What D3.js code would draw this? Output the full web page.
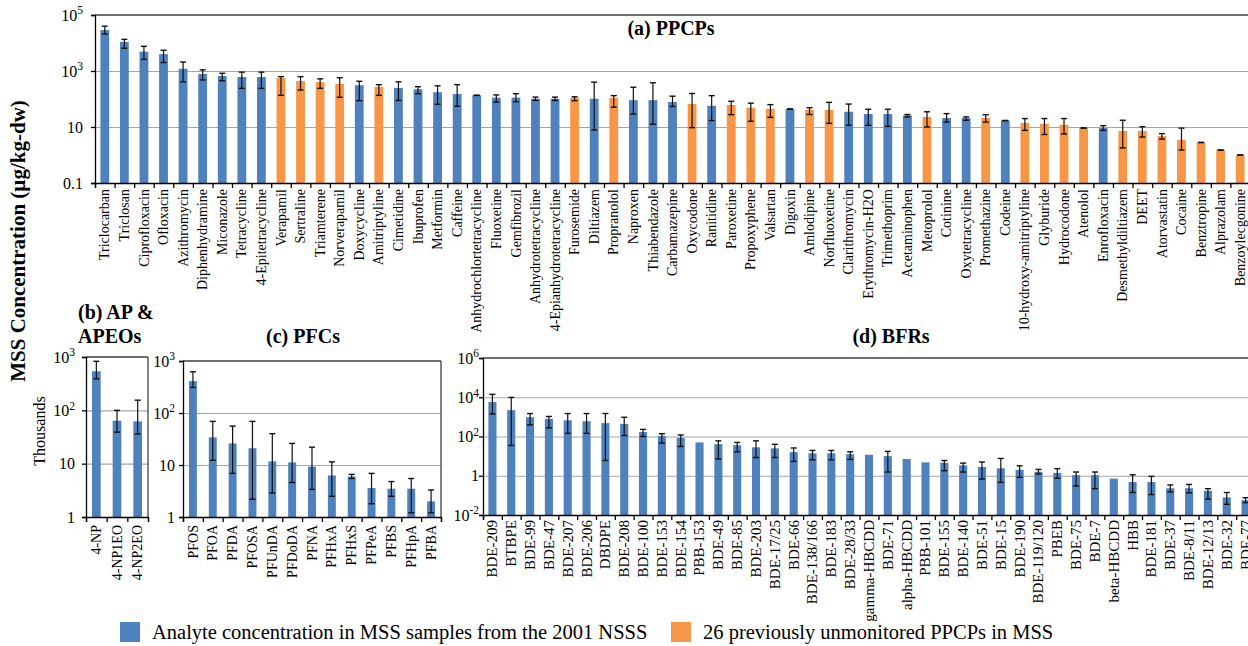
<!DOCTYPE html>
<html>
<head>
<meta charset="utf-8">
<script src="https://cdn.jsdelivr.net/npm/d3@7"></script>
<style>
  body { margin: 0; background: #fff; }
  svg { display: block; font-family: "Liberation Serif", "Times New Roman", serif; }
</style>
</head>
<body>
<svg id="chart"></svg>
<script>
// (a) PPCPs
const ppcpNames = ["Triclocarban", "Triclosan", "Ciprofloxacin", "Ofloxacin", "Azithromycin",
  "Diphenhydramine", "Miconazole", "Tetracycline", "4-Epitetracycline", "Verapamil", "Sertraline",
  "Triamterene", "Norverapamil", "Doxycycline", "Amitriptyline", "Cimetidine", "Ibuprofen",
  "Metformin", "Caffeine", "Anhydrochlortetracycline", "Fluoxetine", "Gemfibrozil",
  "Anhydrotetracycline", "4-Epianhydrotetracycline", "Furosemide", "Diltiazem", "Propranolol",
  "Naproxen", "Thiabendazole", "Carbamazepine", "Oxycodone", "Ranitidine", "Paroxetine",
  "Propoxyphene", "Valsartan", "Digoxin", "Amlodipine", "Norfluoxetine", "Clarithromycin",
  "Erythromycin-H2O", "Trimethoprim", "Acetaminophen", "Metoprolol", "Cotinine",
  "Oxytetracycline", "Promethazine", "Codeine", "10-hydroxy-amitriptyline", "Glyburide",
  "Hydrocodone", "Atenolol", "Enrofloxacin", "Desmethyldiltiazem", "DEET", "Atorvastatin",
  "Cocaine", "Benztropine", "Alprazolam", "Benzoylecgonine"];
const ppcpValues = [29000, 11000, 4900, 4000, 1200, 780, 660, 610, 610, 560, 440, 405, 345, 310,
  270, 247, 223, 175, 150, 135, 112, 112, 102, 102, 110, 102, 110, 91, 91, 78, 66, 57, 61, 49, 45,
  44, 41, 41, 35, 29, 29, 26, 23, 21, 21, 21, 17, 14, 13, 12, 9.2, 9.2, 7.2, 7.2, 4.8, 3.5, 2.8,
  1.5, 1.0];
const ppcpLow = [21000, 6500, 2600, 2000, 410, 480, 450, 240, 240, 135, 210, 240, 115, 87, 135, 89,
  155, 65, 55, 135, 78, 80, 89, 89, 87, 7.8, 51, 29, 12.6, 54, 9.5, 17, 27.5, 16, 22, 44, 28, 13.5,
  11.5, 11.5, 10.5, 23, 10, 15, 17.4, 15, 17, 7.6, 5.4, 5.6, 9.2, 7.6, 1.8, 4.4, 3.7, 1.5, 2.8,
  1.5, 1.0];
const ppcpHigh = [40000, 13500, 7600, 5500, 2100, 1100, 830, 910, 910, 630, 630, 525, 575, 430, 325,
  410, 275, 295, 325, 135, 140, 155, 117, 117, 120, 400, 132, 263, 380, 126, 158, 132, 83, 71, 63,
  44, 49, 76, 66, 43, 43, 28, 35, 30, 23, 27.5, 17, 20, 20, 20, 9.2, 11.2, 17.4, 10.2, 5.8, 9.1,
  2.8, 1.5, 1.0];
const newPpcps = ["Verapamil", "Sertraline", "Triamterene", "Norverapamil", "Amitriptyline",
  "Furosemide", "Propranolol", "Oxycodone", "Paroxetine", "Propoxyphene", "Valsartan",
  "Amlodipine", "Norfluoxetine", "Metoprolol", "Promethazine", "10-hydroxy-amitriptyline",
  "Glyburide", "Hydrocodone", "Atenolol", "Desmethyldiltiazem", "DEET", "Atorvastatin",
  "Cocaine", "Benztropine", "Alprazolam", "Benzoylecgonine"];

// (b) AP & APEOs (thousands)
const apNames = ["4-NP", "4-NP1EO", "4-NP2EO"];
const apValues = [540, 64, 62];
const apLow = [390, 39, 36];
const apHigh = [830, 100, 155];

// (c) PFCs
const pfcNames = ["PFOS", "PFOA", "PFDA", "PFOSA", "PFUnDA", "PFDoDA", "PFNA", "PFHxA", "PFHxS",
  "PFPeA", "PFBS", "PFHpA", "PFBA"];
const pfcValues = [410, 34, 26, 21, 11.7, 11.2, 9.3, 6.3, 6.0, 3.6, 3.5, 3.5, 2.0];
const pfcLow = [310, 12.3, 6.9, 2.2, 2.9, 4.6, 3.4, 2.5, 5.5, 1.8, 2.5, 1.2, 1.2];
const pfcHigh = [620, 69, 56, 69, 40, 26, 22, 11.5, 6.6, 6.9, 4.8, 5.5, 3.3];

// (d) BFRs
const bfrNames = ["BDE-209", "BTBPE", "BDE-99", "BDE-47", "BDE-207", "BDE-206", "DBDPE", "BDE-208",
  "BDE-100", "BDE-153", "BDE-154", "PBB-153", "BDE-49", "BDE-85", "BDE-203", "BDE-17/25",
  "BDE-66", "BDE-138/166", "BDE-183", "BDE-28/33", "gamma-HBCDD", "BDE-71", "alpha-HBCDD",
  "PBB-101", "BDE-155", "BDE-140", "BDE-51", "BDE-15", "BDE-190", "BDE-119/120", "PBEB",
  "BDE-75", "BDE-7", "beta-HBCDD", "HBB", "BDE-181", "BDE-37", "BDE-8/11", "BDE-12/13",
  "BDE-32", "BDE-77"];
const bfrValues = [5800, 2200, 960, 790, 670, 600, 480, 440, 170, 105, 86, 50, 41, 36, 28, 25, 16,
  14, 14, 12.6, 11.7, 10, 7.1, 4.8, 4.6, 3.4, 2.8, 2.4, 2.0, 1.6, 1.4, 1.07, 1.07, 0.71, 0.48,
  0.48, 0.23, 0.23, 0.17, 0.079, 0.057];
const bfrLow = [1400, 35, 390, 275, 145, 145, 6, 112, 100, 46, 31, null, 7.2, 16.6, 8.5, 8.5, 5.4,
  6.5, 6.5, 6.8, null, 1.55, null, null, 1.8, 1.55, 0.68, 0.46, 0.83, 1.23, 0.74, 0.30, 0.22,
  null, 0.14, 0.11, 0.15, 0.135, 0.065, 0.035, 0.043];
const bfrHigh = [14000, 9800, 1480, 1050, 1480, 1480, 1480, 955, 230, 138, 120, null, 60, 50, 60,
  40, 26, 19.5, 19.5, 16.6, null, 17.4, null, null, 6.0, 4.4, 5.0, 7.6, 3.2, 2.1, 2.3, 1.55,
  1.55, null, 1.12, 0.93, 0.34, 0.36, 0.22, 0.14, 0.076];

const legendLabels = ["Analyte concentration in MSS samples from the 2001 NSSS",
  "26 previously unmonitored PPCPs in MSS"];

const width = 1248;
const height = 646;
const blue = "#4F81BD";
const orange = "#F79646";

const svg = d3.select("#chart").attr("width", width).attr("height", height);

// Writes 10^n labels with a raised exponent
function powerLabel(sel, v) {
  const e = Math.round(Math.log10(v));
  sel.text(null);
  if (e < 0 && e > -2) {
    sel.text(String(v));
  } else if (e === 0) {
    sel.text("1");
  } else if (e === 1) {
    sel.text("10");
  } else {
    sel.append("tspan").text("10");
    sel.append("tspan").attr("dy", "-0.55em").attr("font-size", "0.72em").text(String(e));
  }
}

function drawPanel(p) {
  const g = svg.append("g");
  const n = p.names.length;
  const x = d3.scaleBand().domain(p.names).range([p.left, p.right])
    .paddingInner(p.pad).paddingOuter(p.pad / 2);
  const slot = d3.scaleLinear().domain([0, n]).range([p.left, p.right]);
  const y = d3.scaleLog().domain(p.domain).range([p.bottom, p.top]);

  // gridlines
  g.append("g")
    .attr("transform", `translate(${p.left},0)`)
    .call(d3.axisLeft(y).tickValues(p.grid).tickSize(-(p.right - p.left)).tickFormat(""))
    .call((s) => s.select(".domain").remove())
    .call((s) => s.selectAll("line").attr("stroke", "#A6A6A6").attr("stroke-width", 1.2));

  // frame top / right
  g.append("line")
    .attr("x1", p.left).attr("x2", p.right)
    .attr("y1", p.top).attr("y2", p.top)
    .attr("stroke", "#404040").attr("stroke-width", 1.3);
  g.append("line")
    .attr("x1", p.right).attr("x2", p.right)
    .attr("y1", p.top).attr("y2", p.bottom)
    .attr("stroke", "#404040").attr("stroke-width", 1.3);

  const rows = p.names.map((name, i) => ({
    name: name, value: p.values[i], low: p.low[i], high: p.high[i]
  }));

  g.selectAll("rect.bar")
    .data(rows)
    .join("rect")
    .attr("class", "bar")
    .attr("x", (d) => x(d.name))
    .attr("width", x.bandwidth())
    .attr("y", (d) => y(d.value))
    .attr("height", (d) => p.bottom - y(d.value))
    .attr("fill", (d) => p.color(d.name));

  // error bars
  const err = rows.filter((d) => d.low != null);
  const cx = (d) => x(d.name) + x.bandwidth() / 2;
  const cap = 3;
  g.selectAll("line.err")
    .data(err)
    .join("line")
    .attr("x1", cx).attr("x2", cx)
    .attr("y1", (d) => y(d.low)).attr("y2", (d) => y(d.high))
    .attr("stroke", "#111").attr("stroke-width", 1.2);
  ["low", "high"].forEach((k) => {
    g.selectAll("line.cap-" + k)
      .data(err)
      .join("line")
      .attr("x1", (d) => cx(d) - cap).attr("x2", (d) => cx(d) + cap)
      .attr("y1", (d) => y(d[k])).attr("y2", (d) => y(d[k]))
      .attr("stroke", "#111").attr("stroke-width", 1.4);
  });

  // x axis with ticks between categories
  g.append("g")
    .attr("transform", `translate(0,${p.bottom})`)
    .call(d3.axisBottom(slot).tickValues(d3.range(n + 1)).tickSize(5).tickFormat(""))
    .call((s) => s.selectAll("line, path").attr("stroke", "#000").attr("stroke-width", 1.3));

  // category labels
  g.append("g")
    .attr("transform", `translate(0,${p.bottom})`)
    .call(d3.axisBottom(x).tickSize(0))
    .call((s) => s.select(".domain").remove())
    .attr("font-family", null)
    .attr("font-size", p.labelSize)
    .selectAll("text")
    .attr("transform", "rotate(-90)")
    .attr("x", -p.labelGap)
    .attr("y", 0)
    .attr("dy", "0.33em")
    .attr("fill", "#000")
    .style("text-anchor", "end");

  // y axis
  g.append("g")
    .attr("transform", `translate(${p.left},0)`)
    .call(d3.axisLeft(y).tickValues(p.ticks).tickSize(4).tickPadding(p.tickGap).tickFormat(""))
    .attr("font-family", null)
    .attr("font-size", 16)
    .call((s) => s.selectAll("line, path").attr("stroke", "#000").attr("stroke-width", 1.3))
    .selectAll(".tick text")
    .attr("fill", "#000")
    .each(function (v) {
      powerLabel(d3.select(this), v);
    });

  return g;
}

const isNew = new Set(newPpcps);

drawPanel({
  names: ppcpNames, values: ppcpValues, low: ppcpLow, high: ppcpHigh,
  color: (name) => (isNew.has(name) ? orange : blue),
  left: 95, right: 1250, top: 15, bottom: 183, pad: 0.55,
  domain: [0.1, 1e5], ticks: [0.1, 10, 1e3, 1e5], grid: [10, 1e3],
  labelSize: 14, labelGap: 6, tickGap: 8
});

drawPanel({
  names: apNames, values: apValues, low: apLow, high: apHigh,
  color: () => blue,
  left: 86, right: 148, top: 357, bottom: 517, pad: 0.58,
  domain: [1, 1e3], ticks: [1, 10, 1e2, 1e3], grid: [10, 1e2],
  labelSize: 14, labelGap: 8, tickGap: 7
});

drawPanel({
  names: pfcNames, values: pfcValues, low: pfcLow, high: pfcHigh,
  color: () => blue,
  left: 183, right: 441, top: 361, bottom: 517, pad: 0.6,
  domain: [1, 1e3], ticks: [1, 10, 1e2, 1e3], grid: [10, 1e2],
  labelSize: 14, labelGap: 8, tickGap: 4
});

drawPanel({
  names: bfrNames, values: bfrValues, low: bfrLow, high: bfrHigh,
  color: () => blue,
  left: 483, right: 1255, top: 358, bottom: 515, pad: 0.57,
  domain: [1e-2, 1e6], ticks: [1e-2, 1, 1e2, 1e4, 1e6], grid: [1, 1e2, 1e4],
  labelSize: 15, labelGap: 5, tickGap: 0
});

// titles
const titleStyle = (t) => t.attr("font-weight", "bold").attr("font-size", 20).attr("fill", "#000");
svg.append("text").attr("x", 671).attr("y", 35).attr("text-anchor", "middle").text("(a) PPCPs").call(titleStyle);
svg.append("text").attr("x", 78).attr("y", 319).text("(b) AP &").call(titleStyle);
svg.append("text").attr("x", 78).attr("y", 343).text("APEOs").call(titleStyle);
svg.append("text").attr("x", 303).attr("y", 343).attr("text-anchor", "middle").text("(c) PFCs").call(titleStyle);
svg.append("text").attr("x", 891).attr("y", 343).attr("text-anchor", "middle").text("(d) BFRs").call(titleStyle);

// axis titles
svg.append("text")
  .attr("transform", "translate(25,241) rotate(-90)")
  .attr("text-anchor", "middle")
  .attr("font-weight", "bold")
  .attr("font-size", 21)
  .text("MSS Concentration (µg/kg-dw)");
svg.append("text")
  .attr("transform", "translate(45,431) rotate(-90)")
  .attr("text-anchor", "middle")
  .attr("font-size", 16)
  .text("Thousands");

// legend
const legendX = [120, 671];
const legendColors = [blue, orange];
const legend = svg.append("g")
  .selectAll("g")
  .data(legendLabels)
  .join("g")
  .attr("transform", (d, i) => `translate(${legendX[i]},622)`);
legend.append("rect")
  .attr("width", 20).attr("height", 20)
  .attr("fill", (d, i) => legendColors[i]);
legend.append("text")
  .attr("x", 32).attr("y", 17)
  .attr("font-size", 20.5)
  .text((d) => d);
</script>
</body>
</html>
